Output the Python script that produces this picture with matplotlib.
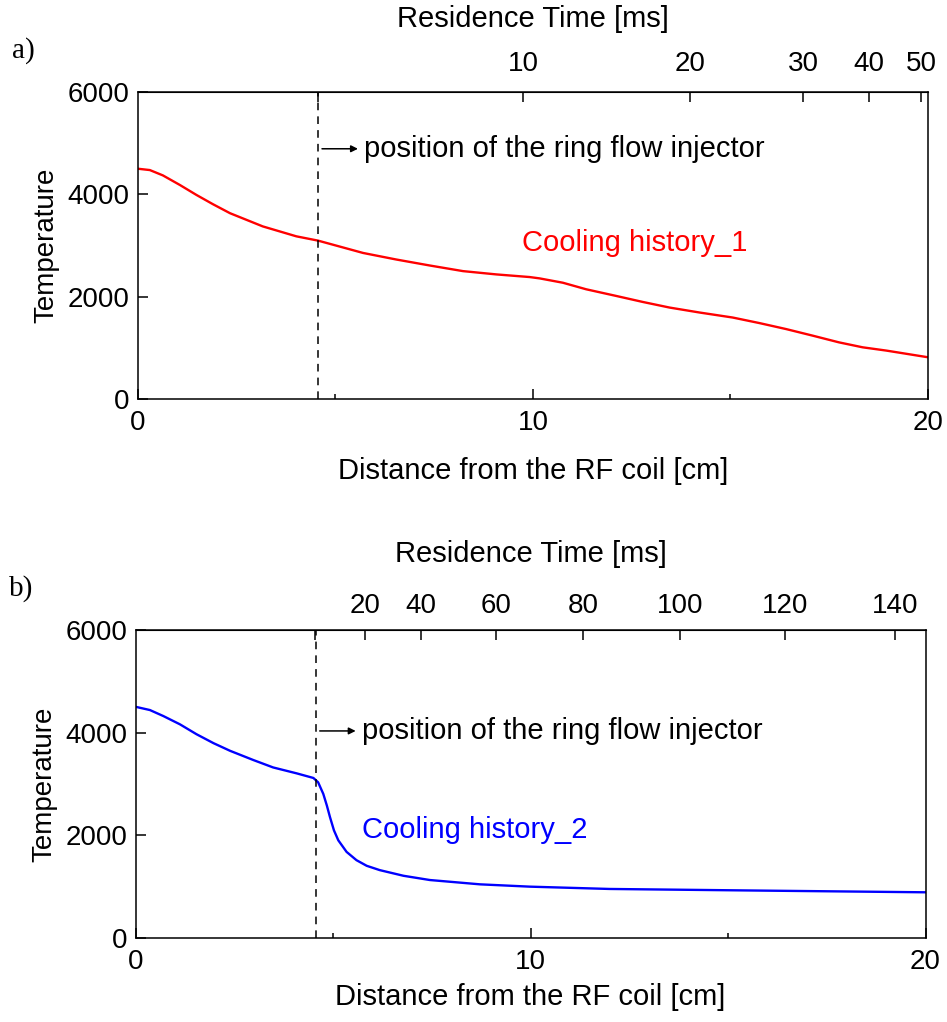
import matplotlib
matplotlib.use("Agg")
import matplotlib.pyplot as plt
from matplotlib.ticker import FixedLocator

plt.rcParams['font.family'] = ['Liberation Sans', 'DejaVu Sans']

# distance from RF coil [cm] and temperature
dist_1 = [0, 0.30, 0.63, 1.06, 1.48, 1.90, 2.33, 3.16, 4.01, 4.56, 5.70, 6.54,
          7.38, 8.23, 9.07, 9.92, 10.17, 10.76, 11.35, 12.11, 12.78, 13.46,
          14.22, 15.06, 15.74, 16.41, 17.09, 17.75, 18.35, 18.95, 20.0]
temp_1 = [4500, 4474, 4370, 4183, 3988, 3806, 3631, 3373, 3179, 3095, 2854,
          2726, 2610, 2499, 2435, 2383, 2357, 2272, 2144, 2014, 1897, 1787,
          1690, 1592, 1483, 1367, 1237, 1107, 1010, 946, 816]

dist_2 = [0, 0.36, 0.70, 1.12, 1.54, 1.97, 2.39, 2.98, 3.48, 4.08, 4.50, 4.62,
          4.75, 4.84, 4.92, 5.02, 5.13, 5.34, 5.59, 5.85, 6.18, 6.78, 7.45,
          8.72, 9.98, 12.0, 15.0, 17.5, 20.0]
temp_2 = [4503, 4440, 4323, 4162, 3969, 3795, 3646, 3466, 3322, 3206, 3117,
          3032, 2807, 2581, 2354, 2097, 1903, 1677, 1516, 1406, 1322, 1212,
          1129, 1045, 1000, 955, 930, 910, 890]

injector_pos = 4.56

# residence time ticks on top axis (position in cm, label in ms)
rt_pos_1 = [4.57, 9.76, 13.99, 16.84, 18.52, 19.83]
rt_lab_1 = ['', '10', '20', '30', '40', '50']
rt_pos_2 = [4.53, 5.81, 7.22, 9.12, 11.33, 13.78, 16.45, 19.24]
rt_lab_2 = ['', '20', '40', '60', '80', '100', '120', '140']

fig = plt.figure(figsize=(9.47, 10.22), dpi=100)
ax1 = fig.add_axes([0.1457, 0.6096, 0.834, 0.3004])
ax2 = fig.add_axes([0.1433, 0.0822, 0.834, 0.3014])


def style_panel(ax, dist, temp, color, rt_pos, rt_lab, label, lab_xy, arrow_y,
                panel, pads):
    ax.plot(dist, temp, color=color, lw=1.7)
    ax.axvline(injector_pos, color='black', ls=(0, (5, 4)), lw=1.1)
    ax.set_xlim(0, 20)
    ax.set_ylim(0, 6000)
    ax.set_xticks([0, 10, 20])
    ax.xaxis.set_minor_locator(FixedLocator([5, 15]))
    ax.set_yticks([0, 2000, 4000, 6000])
    ax.tick_params(which='major', direction='in', length=7, width=1.1,
                   labelsize=20, pad=6)
    ax.tick_params(which='minor', direction='in', length=3.5, width=1.1)
    ax.tick_params(axis='x', which='major', pad=8)
    for s in ax.spines.values():
        s.set_linewidth(1.1)
    ax.set_xlabel('Distance from the RF coil [cm]', fontsize=21, labelpad=pads[0])
    ax.set_ylabel('Temperature', fontsize=20, labelpad=6)

    top = ax.secondary_xaxis('top')
    top.set_xticks(rt_pos, rt_lab)
    top.tick_params(direction='in', length=7, width=1.1, labelsize=20, pad=pads[1])
    top.set_xlabel('Residence Time [ms]', fontsize=21, labelpad=pads[2])

    ax.annotate('', xy=(5.57, arrow_y), xytext=(4.66, arrow_y),
                arrowprops=dict(arrowstyle='-|>', color='black', lw=1.1,
                                mutation_scale=10, shrinkA=0, shrinkB=0))
    ax.text(5.72, arrow_y, 'position of the ring flow injector', fontsize=21,
            va='center', ha='left')
    ax.text(lab_xy[0], lab_xy[1], label, color=color, fontsize=21,
            va='center', ha='left')
    ax.text(-0.16, 1.135, panel, transform=ax.transAxes, fontsize=21,
            family='Liberation Serif', va='center', ha='left')


style_panel(ax1, dist_1, temp_1, '#ff0000', rt_pos_1, rt_lab_1,
            'Cooling history_1', (9.72, 3043), 4890, 'a)', (15, 11, 17))
style_panel(ax2, dist_2, temp_2, '#0000ff', rt_pos_2, rt_lab_2,
            'Cooling history_2', (5.73, 2097), 4033, 'b)', (6, 8, 22))

fig.savefig('out.png', dpi=100)
